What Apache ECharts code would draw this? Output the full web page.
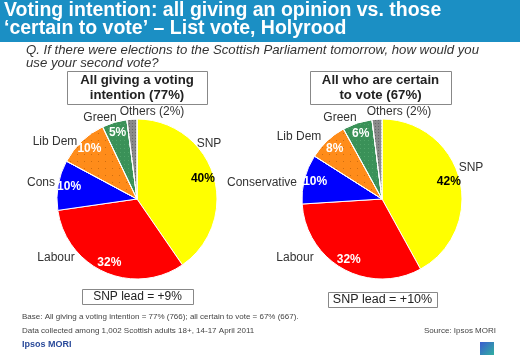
<!DOCTYPE html>
<html><head><meta charset="utf-8">
<script src="https://cdn.jsdelivr.net/npm/echarts@6/dist/echarts.min.js"></script>
<style>html,body{margin:0;padding:0;background:#fff}#c{width:520px;height:360px}</style>
</head><body><div id="c"></div>
<script>
// ---- data ----
const parties = ['SNP', 'Labour', 'Conservative', 'Lib Dem', 'Green', 'Others'];
const leftValues = [40, 32, 10, 10, 5, 2];
const rightValues = [42, 32, 10, 8, 6, 2];
const leftLabels = ['SNP', 'Labour', 'Cons', 'Lib Dem', 'Green', 'Others (2%)'];
const rightLabels = ['SNP', 'Labour', 'Conservative', 'Lib Dem', 'Green', 'Others (2%)'];
const leftTitle = 'All giving a voting\nintention (77%)';
const rightTitle = 'All who are certain\nto vote (67%)';
const leftLead = 'SNP lead = +9%';
const rightLead = 'SNP lead = +10%';

// ---- style ----
const colors = ['#ffff00', '#ff0000', '#0000ff', '#ff8c1a', '#3a9158', '#8a8a8a'];
const decals = [null, null, null,
  {symbol: 'rect', symbolSize: 1, color: 'rgba(150,70,0,0.45)', dashArrayX: [1, 6], dashArrayY: [1, 6], rotation: 0},
  {symbol: 'rect', symbolSize: 1, color: 'rgba(120,200,140,0.35)', dashArrayX: [1, 3], dashArrayY: [1, 3], rotation: 0},
  {symbol: 'rect', symbolSize: 1, color: 'rgba(60,60,60,0.45)', dashArrayX: [1, 2], dashArrayY: [1, 2], rotation: 0}];
const leftCenter = [137, 199], rightCenter = [382, 199], R = 80;
const leftLabelPos = [[209, 144], [56, 258], [41, 183], [55, 142], [100, 118], [152, 112]];
const rightLabelPos = [[471, 168], [295, 258], [262, 183], [299, 137], [340, 118], [399, 112]];
const FONT = 'Liberation Sans, Arial, sans-serif';

function mkData(values, names) {
  return values.map((v, i) => ({
    value: v, name: parties[i], label: {formatter: names[i]},
    itemStyle: {color: colors[i], decal: decals[i] || undefined}
  }));
}
function pieSeries(values, names, center, pos) {
  return {
    type: 'pie', center: center, radius: R, startAngle: 90, clockwise: true,
    silent: true, animation: false,
    itemStyle: {borderColor: '#fff', borderWidth: 1},
    label: {show: true, position: 'outside', color: '#333', fontSize: 12, fontFamily: FONT, overflow: 'none', width: 200},
    labelLine: {show: false},
    labelLayout: function (p) {
      const q = pos[p.dataIndex];
      return {x: q[0], y: q[1], align: 'center', verticalAlign: 'middle', hideOverlap: false};
    },
    data: mkData(values, names)
  };
}
function innerSeries(values, center) {
  return {
    type: 'pie', center: center, radius: [R * 0.65, R], startAngle: 90, clockwise: true,
    silent: true, animation: false, z: 5,
    itemStyle: {color: 'rgba(0,0,0,0)'},
    label: {show: true, position: 'inside', fontSize: 12, fontWeight: 'bold', fontFamily: FONT, color: '#fff'},
    labelLine: {show: false},
    data: values.map((v, i) => ({
      value: v, name: parties[i],
      label: {show: i < values.length - 1, formatter: v + '%', color: i === 0 ? '#000' : '#fff'}
    }))
  };
}
function box(x, y, w, h) {
  return {type: 'rect', shape: {x: x + 0.5, y: y + 0.5, width: w, height: h}, style: {fill: '#fff', stroke: '#888', lineWidth: 1}, z: 1};
}
function boxText(cx, cy, text, font) {
  return {type: 'text', x: cx, y: cy, z: 2, style: {text: text, fill: '#222', font: font, align: 'center', verticalAlign: 'middle', lineHeight: 15}};
}

const chart = echarts.init(document.getElementById('c'), null, {renderer: 'canvas'});
chart.setOption({
  backgroundColor: '#fff',
  aria: {enabled: false, decal: {show: false}},
  title: [
    {text: 'Voting intention: all giving an opinion vs. those\n\u2018certain to vote\u2019 \u2013 List vote, Holyrood', left: 4, top: 2,
     padding: 0,
     textStyle: {color: '#fff', fontSize: 19.5, fontWeight: 'bold', fontFamily: FONT, lineHeight: 18}},
    {text: 'Q. If there were elections to the Scottish Parliament tomorrow, how would you\nuse your second vote?', left: 26, top: 44,
     padding: 0,
     textStyle: {color: '#333', fontSize: 13.2, fontStyle: 'italic', fontWeight: 'normal', fontFamily: FONT, lineHeight: 13}}
  ],
  graphic: [
    {type: 'rect', z: -1, shape: {x: 0, y: 0, width: 520, height: 42}, style: {fill: '#1b8fc4'}},
    box(67, 71, 140, 33), boxText(137, 88, leftTitle, 'bold 13.2px ' + FONT),
    box(310, 71, 141, 33), boxText(380.5, 88, rightTitle, 'bold 13.2px ' + FONT),
    box(82, 289, 111, 15), boxText(137.5, 297, leftLead, '12px ' + FONT),
    box(328, 292, 109, 15), boxText(382.5, 300, rightLead, '12.5px ' + FONT),
    {type: 'text', left: 22, top: 313, style: {text: 'Base: All giving a voting intention = 77% (766); all certain to vote = 67% (667).', fill: '#444', font: '8px ' + FONT}},
    {type: 'text', left: 22, top: 327, style: {text: 'Data collected among 1,002 Scottish adults 18+, 14-17 April 2011', fill: '#444', font: '8px ' + FONT}},
    {type: 'text', right: 24, top: 327, style: {text: 'Source: Ipsos MORI', fill: '#444', font: '8px ' + FONT}},
    {type: 'text', left: 22, top: 340, style: {text: 'Ipsos MORI', fill: '#2a4a9a', font: 'bold 9px ' + FONT}},
    {type: 'rect', shape: {x: 480, y: 342, width: 14, height: 13},
     style: {fill: new echarts.graphic.LinearGradient(0, 0, 1, 1, [{offset: 0, color: '#3a5bd0'}, {offset: 1, color: '#30b0a0'}])}}
  ],
  series: [
    pieSeries(leftValues, leftLabels, leftCenter, leftLabelPos),
    innerSeries(leftValues, leftCenter),
    pieSeries(rightValues, rightLabels, rightCenter, rightLabelPos),
    innerSeries(rightValues, rightCenter)
  ]
});
</script></body></html>
